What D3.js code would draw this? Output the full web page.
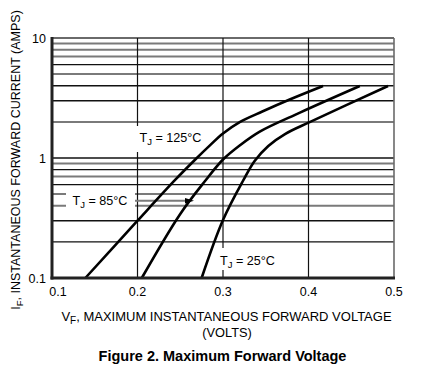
<!DOCTYPE html>
<html><head><meta charset="utf-8">
<script src="https://cdn.jsdelivr.net/npm/d3@7"></script>
<style>
html,body{margin:0;padding:0;background:#fff;}
svg{display:block;font-family:"Liberation Sans",Arial,sans-serif;}
</style></head>
<body><svg id="c" width="423" height="371"></svg>
<script>
// ---- data ----
const vTicks = [0.1, 0.2, 0.3, 0.4, 0.5];
const iTicks = [0.1, 1, 10];
const iGrid = [0.2,0.3,0.4,0.5,0.6,0.7,0.8,0.9,2,3,4,5,6,7,8,9];
const v125 = [0.139,0.200,0.244,0.267,0.285,0.300,0.320,0.346,0.378,0.417];
const i125 = [0.100,0.300,0.656,0.962,1.28,1.60,2.00,2.44,3.07,3.98];
const v85  = [0.205,0.250,0.279,0.300,0.320,0.343,0.390,0.460];
const i85  = [0.100,0.342,0.643,0.972,1.28,1.66,2.39,3.98];
const v25  = [0.275,0.300,0.324,0.337,0.353,0.373,0.402,0.493];
const i25  = [0.100,0.304,0.656,0.944,1.26,1.59,2.00,3.98];
const seriesNames = ["125", "85", "25"];
const xTitle = ["V", "F", ", MAXIMUM INSTANTANEOUS FORWARD VOLTAGE"];
const xTitle2 = "(VOLTS)";
const yTitle = ["I", "F", ", INSTANTANEOUS FORWARD CURRENT (AMPS)"];
const figTitle = "Figure 2. Maximum Forward Voltage";

// ---- drawing ----
const svg = d3.select("#c");
const x = d3.scaleLinear().domain([0.1, 0.5]).range([52, 394]);
const y = d3.scaleLog().domain([0.1, 10]).range([278, 38]);
const darkSet = new Set([0.2, 0.3, 0.6, 0.8, 3, 4, 6]);

// horizontal grid
svg.append("g").selectAll("line").data(iGrid).join("line")
  .attr("x1", x(0.1)).attr("x2", x(0.5))
  .attr("y1", d => y(d)).attr("y2", d => y(d))
  .attr("stroke", d => darkSet.has(d) ? "#111" : "#7a7a7a")
  .attr("stroke-width", d => darkSet.has(d) ? 1.3 : 2);
svg.append("g").selectAll("line").data([1, 10]).join("line")
  .attr("x1", x(0.1)).attr("x2", x(0.5))
  .attr("y1", d => y(d)).attr("y2", d => y(d))
  .attr("stroke", d => d === 10 ? "#6a6a6a" : "#111")
  .attr("stroke-width", d => d === 10 ? 2 : 1.3);
// vertical grid
svg.append("g").selectAll("line").data(vTicks.slice(1, 4)).join("line")
  .attr("x1", d => x(d)).attr("x2", d => x(d))
  .attr("y1", y(10)).attr("y2", y(0.1))
  .attr("stroke", "#111").attr("stroke-width", 1.2);
// right border
svg.append("line").attr("x1", x(0.5)).attr("x2", x(0.5)).attr("y1", y(10)).attr("y2", y(0.1))
  .attr("stroke", "#6a6a6a").attr("stroke-width", 1.6);

// label masks
const masks = [[66, 188, 69, 24], [134, 126, 72, 26], [216, 248, 64, 22]];
svg.append("g").selectAll("rect").data(masks).join("rect")
  .attr("x", d => d[0]).attr("y", d => d[1]).attr("width", d => d[2]).attr("height", d => d[3])
  .attr("fill", "#fff");

// arrow for 85
svg.append("line").attr("x1", 135).attr("x2", 186).attr("y1", 200.7).attr("y2", 200.7)
  .attr("stroke", "#7a7a7a").attr("stroke-width", 2);
svg.append("path").attr("d", "M185,198 L194,200.7 L185,203.4 Z").attr("fill", "#000");

// curves
const line = d3.line().x(d => x(d[0])).y(d => y(d[1])).curve(d3.curveCatmullRom.alpha(0.5));
[[v125, i125], [v85, i85], [v25, i25]].forEach(([vs, is]) => {
  svg.append("path").datum(vs.map((v, k) => [v, is[k]]))
    .attr("d", line).attr("fill", "none").attr("stroke", "#000")
    .attr("stroke-width", 2.6).attr("stroke-linecap", "butt");
});

// axes frame (left, bottom)
svg.append("line").attr("x1", x(0.1)).attr("x2", x(0.1)).attr("y1", y(10) - 1).attr("y2", y(0.1) + 1.5)
  .attr("stroke", "#222").attr("stroke-width", 3);
svg.append("line").attr("x1", x(0.1) - 1.5).attr("x2", x(0.5) + 1).attr("y1", y(0.1)).attr("y2", y(0.1))
  .attr("stroke", "#222").attr("stroke-width", 3);

// tick labels
svg.append("g").selectAll("text").data(vTicks).join("text")
  .attr("x", (d, k) => x(d) + (k === 0 ? 6 : 0)).attr("y", 296)
  .attr("text-anchor", "middle").attr("font-size", 12.5).attr("fill", "#000")
  .text(d => d3.format(".1f")(d));
svg.append("g").selectAll("text").data(iTicks).join("text")
  .attr("x", 46).attr("y", d => y(d) + 4.5)
  .attr("text-anchor", "end").attr("font-size", 12.5).attr("fill", "#000")
  .text(d => d < 1 ? d3.format(".1f")(d) : d3.format("d")(d));

// series labels
function tjLabel(xp, yp, name) {
  const t = svg.append("text").attr("x", xp).attr("y", yp).attr("font-size", 12.6).attr("fill", "#000");
  t.append("tspan").text("T");
  t.append("tspan").attr("dy", 3).attr("font-size", 9.5).text("J");
  t.append("tspan").attr("dy", -3).text(" = " + name + "\u00b0C");
}
tjLabel(139.5, 142, seriesNames[0]);
tjLabel(72.5, 205, seriesNames[1]);
tjLabel(220, 264.5, seriesNames[2]);

// axis titles
const xt = svg.append("text").attr("x", 226.5).attr("y", 321).attr("text-anchor", "middle")
  .attr("font-size", 13).attr("fill", "#000");
xt.append("tspan").text(xTitle[0]);
xt.append("tspan").attr("dy", 3).attr("font-size", 10).text(xTitle[1]);
xt.append("tspan").attr("dy", -3).text(xTitle[2]);
svg.append("text").attr("x", 227).attr("y", 337).attr("text-anchor", "middle")
  .attr("font-size", 12.8).attr("fill", "#000").text(xTitle2);

const yt = svg.append("text").attr("transform", "translate(20,160) rotate(-90)")
  .attr("text-anchor", "middle").attr("font-size", 12.5).attr("fill", "#000");
yt.append("tspan").text(yTitle[0]);
yt.append("tspan").attr("dy", 3).attr("font-size", 9.5).text(yTitle[1]);
yt.append("tspan").attr("dy", -3).text(yTitle[2]);

svg.append("text").attr("x", 222.5).attr("y", 361).attr("text-anchor", "middle")
  .attr("font-size", 14.5).attr("font-weight", "bold").attr("fill", "#000").text(figTitle);
</script></body></html>
